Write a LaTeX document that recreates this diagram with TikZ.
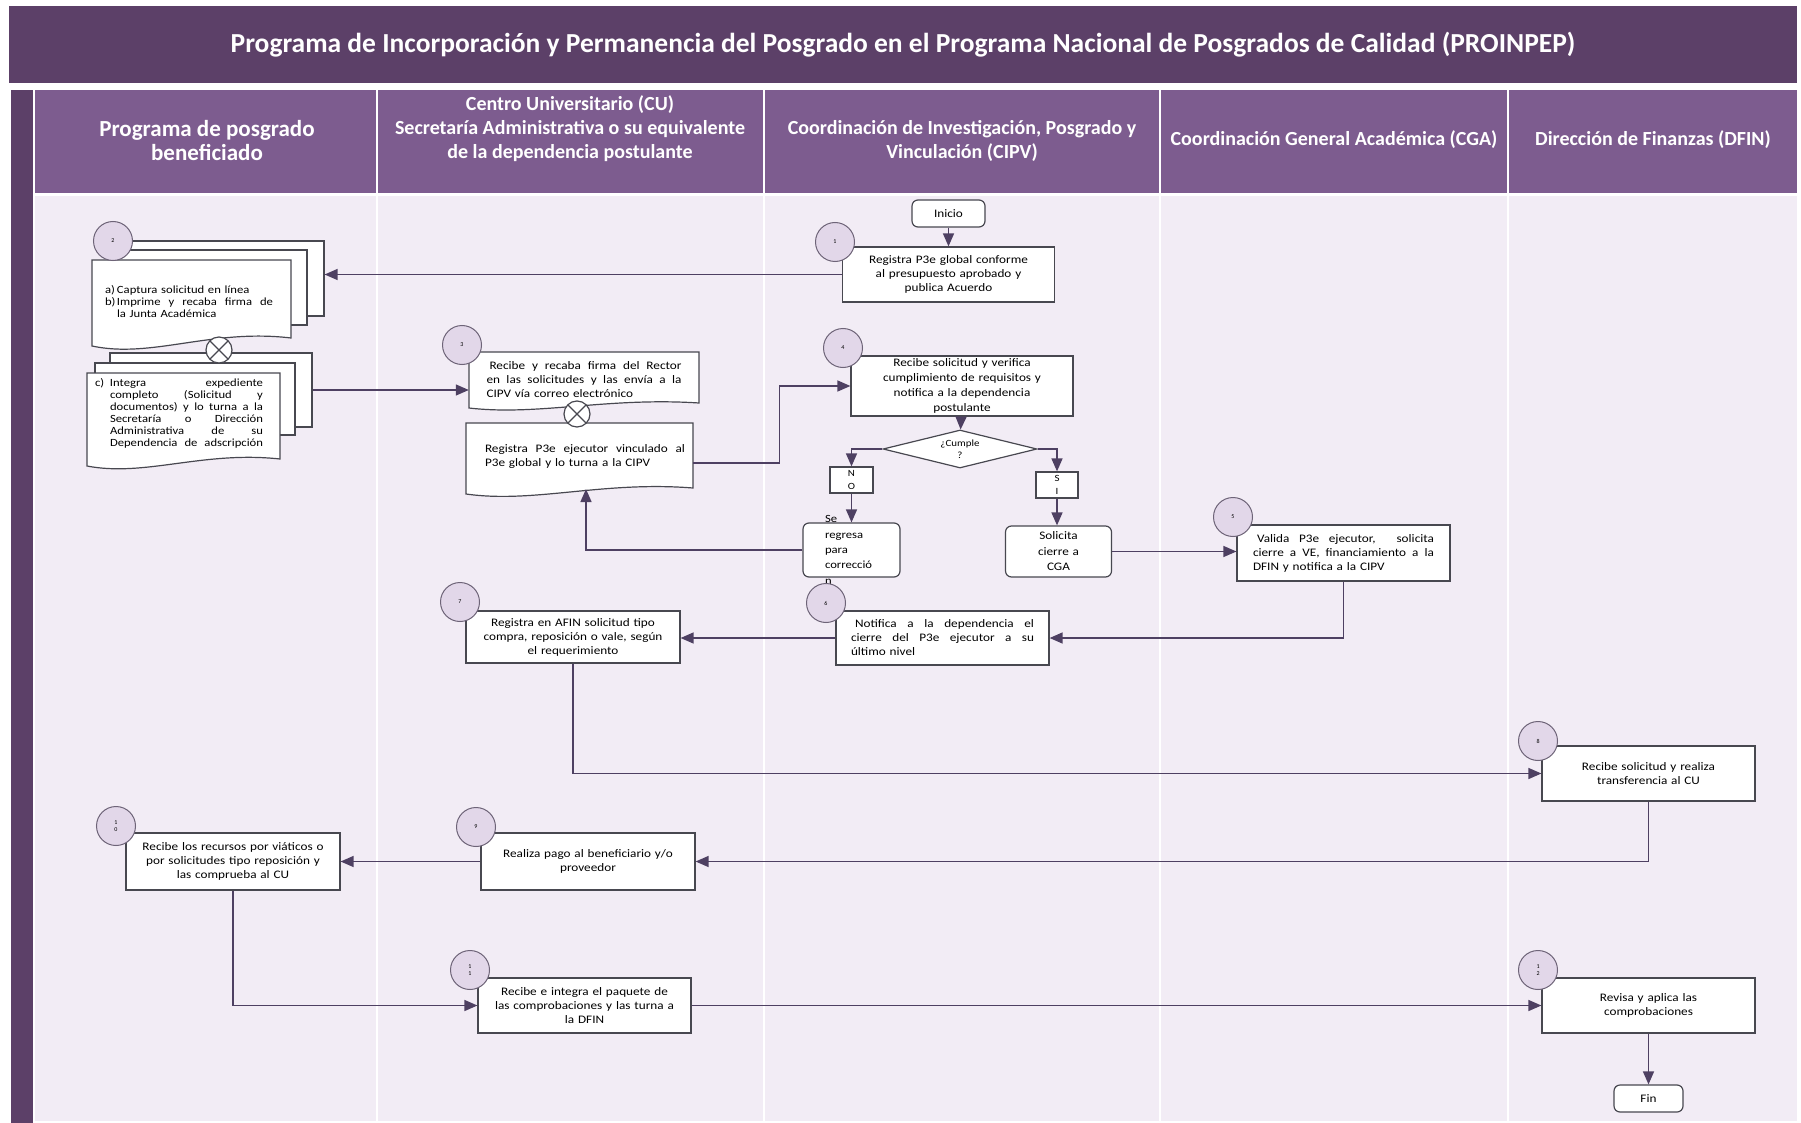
\documentclass[tikz,border=0pt]{standalone}
\usepackage{fontspec}
\setmainfont{Carlito}
\newfontfamily\boxfont[FakeStretch=1.15]{Carlito}
\usetikzlibrary{shapes.geometric,arrows.meta}
\definecolor{titlebg}{RGB}{92,64,104}
\definecolor{headbg}{RGB}{125,92,143}
\definecolor{lanebg}{RGB}{242,236,245}
\definecolor{circbg}{RGB}{226,215,233}
\definecolor{circline}{RGB}{110,100,120}
\definecolor{linec}{RGB}{78,64,98}
\definecolor{boxc}{RGB}{72,72,80}
\newcommand{\spread}[2][\hsize]{\leavevmode\hbox to #1{\spaceskip=\fontdimen2\font plus 1fil\relax#2}}
\newcommand{\docsheet}[5]{\filldraw[sheet] (#1,#2) -- (#3,#2) -- (#3,{#4-#5}) .. controls ({#1+0.6*(#3-#1)},{#4-2.2*#5}) and ({#1+0.3*(#3-#1)},{#4+1.6*#5}) .. (#1,#4) -- cycle;}
\begin{document}
\begin{tikzpicture}[x=1pt,y=-1pt,
  headtext/.style={text=white,font=\bfseries\fontsize{20}{24}\selectfont,align=center},
  sheet/.style={draw=boxc,fill=white,line width=1.2pt},
  stepbox/.style={draw=boxc,fill=white,line width=1.2pt,font=\boxfont\fontsize{11.5}{14}\selectfont,align=center,inner xsep=8pt,inner ysep=0pt},
  roundbox/.style={stepbox,rounded corners=6pt},
  doctext/.style={font=\boxfont\fontsize{11}{12}\selectfont,align=left,inner sep=0pt},
  numcirc/.style={circle,draw=circline,fill=circbg,line width=1pt,minimum size=39pt,inner sep=0pt,font=\fontsize{6}{6.5}\selectfont,align=center},
  xcirc/.style={circle,draw=boxc,fill=white,line width=1.2pt,minimum size=26pt,inner sep=0pt,
    path picture={\draw[boxc,line width=1.2pt] (path picture bounding box.north west) -- (path picture bounding box.south east) (path picture bounding box.north east) -- (path picture bounding box.south west);}},
  decision/.style={diamond,draw=boxc,fill=white,line width=1.2pt,minimum width=154pt,minimum height=38pt,aspect=4,inner sep=0pt,font=\boxfont\fontsize{9.5}{12}\selectfont,align=center},
  flow/.style={draw=linec,line width=1.4pt,-{Triangle[length=13pt,width=11pt]}}]
\useasboundingbox (0,0) rectangle (1801,1123);
\fill[white] (0,0) rectangle (1801,1123);
\fill[titlebg] (9,6) rectangle (1797,83);
\fill[titlebg] (11,90) rectangle (33,1123);
\foreach \l/\r in {35/376,378/763,765/1159,1161/1507,1509/1797}{
  \fill[headbg] (\l,90) rectangle (\r,193);
  \fill[lanebg] (\l,196) rectangle (\r,1121);
}
\node[text=white,font=\bfseries\fontsize{27.5}{32}\selectfont] (title) at (903,45) {Programa de Incorporación y Permanencia del Posgrado en el Programa Nacional de Posgrados de Calidad (PROINPEP)};
\node[headtext,font=\bfseries\fontsize{23}{24}\selectfont] (h1) at (207,141) {Programa de posgrado\\beneficiado};
\node[headtext] (h2) at (570,129) {Centro Universitario (CU)\\Secretaría Administrativa o su equivalente\\de la dependencia postulante};
\node[headtext] (h3) at (962,141) {Coordinación de Investigación, Posgrado y\\Vinculación (CIPV)};
\node[headtext] (h4) at (1334,140) {Coordinación General Académica (CGA)};
\node[headtext] (h5) at (1653,140) {Dirección de Finanzas (DFIN)};

\node[roundbox,minimum width=73pt,minimum height=27pt] (inicio) at (948.5,213.5) {Inicio};
\node[stepbox,minimum width=212pt,minimum height=55pt,text width=196pt] (s1) at (948.5,274.5) {Registra P3e global conforme\\al presupuesto aprobado y\\publica Acuerdo};

\node[sheet,minimum width=196pt,minimum height=75pt,inner sep=0pt] (s2top) at (226,278.5) {};
\node[sheet,minimum width=199pt,minimum height=75pt,inner sep=0pt] (s2topmid) at (207.5,287.5) {};
\docsheet{92}{260}{291}{346}{8}
\node[doctext,text width=168pt] (s2a) at (189,302) {\makebox[12pt][l]{a)}Captura solicitud en línea\\\makebox[12pt][l]{b)}\spread[156pt]{Imprime y recaba firma de}\\\hspace*{12pt}la Junta Académica};
\node[sheet,minimum width=202pt,minimum height=74pt,inner sep=0pt] (s2back) at (211,390) {};
\node[sheet,minimum width=200pt,minimum height=72pt,inner sep=0pt] (s2backmid) at (195,399) {};
\docsheet{87}{373}{280}{466}{7}
\node[doctext,text width=168pt] (s2b) at (179,413) {\makebox[15pt][l]{c)}\spread[153pt]{Integra expediente}\\\hspace*{15pt}\spread[153pt]{completo (Solicitud y}\\\hspace*{15pt}\spread[153pt]{documentos) y lo turna a la}\\\hspace*{15pt}\spread[153pt]{Secretaría o Dirección}\\\hspace*{15pt}\spread[153pt]{Administrativa de su}\\\hspace*{15pt}\spread[153pt]{Dependencia de adscripción}};
\node[xcirc] (x1) at (219,350) {};

\docsheet{469}{352}{699}{408}{5}
\node[doctext,font=\boxfont\fontsize{11.5}{14}\selectfont,minimum width=230pt,minimum height=56pt,text width=195pt] (s3a) at (584,380) {\spread{\hspace*{3pt}Recibe y recaba firma del Rector}\\\spread{en las solicitudes y las envía a la}\\CIPV vía correo electrónico};
\docsheet{466}{423}{693}{494}{6}
\node[doctext,font=\boxfont\fontsize{11.5}{14}\selectfont,minimum width=216pt,minimum height=80pt,text width=200pt] (s3b) at (585,463) {\spread{Registra P3e ejecutor vinculado al}\\P3e global y lo turna a la CIPV\\\mbox{}};
\node[xcirc] (x2) at (577,414) {};
\coordinate (s3bin) at (586,489);

\node[stepbox,minimum width=222pt,minimum height=60pt,text width=206pt,font=\boxfont\fontsize{11.5}{15}\selectfont] (s4) at (962,386) {Recibe solicitud y verifica\\cumplimiento de requisitos y\\notifica a la dependencia\\postulante};
\node[decision] (dec) at (960,449) {¿Cumple\\?};
\node[stepbox,minimum width=43pt,minimum height=26pt,inner xsep=0pt,font=\boxfont\fontsize{9.5}{13}\selectfont] (no) at (851.5,480) {N\\O};
\node[stepbox,minimum width=42pt,minimum height=26pt,inner xsep=0pt,font=\boxfont\fontsize{9.5}{13}\selectfont] (si) at (1057,485) {S\\I};
\node[roundbox,minimum width=97pt,minimum height=54pt] (regresa) at (851.5,550) {};
\node[doctext,font=\boxfont\fontsize{11}{15.3}\selectfont,text width=53pt] (regresatxt) at (851.5,550) {Se\\regresa\\para\\correcció\\n};
\node[roundbox,minimum width=103pt,minimum height=51pt,text width=90pt,font=\boxfont\fontsize{11.5}{15.5}\selectfont] (sol) at (1058.5,551.5) {Solicita\\cierre a\\CGA};

\node[stepbox,minimum width=213pt,minimum height=56pt,text width=181pt,inner xsep=16pt,align=left] (s5) at (1343.5,553) {\spread{\hspace*{4pt}Valida P3e ejecutor, \ solicita}\\\spread{cierre a VE, financiamiento a la}\\DFIN y notifica a la CIPV};
\node[stepbox,minimum width=213pt,minimum height=54pt,text width=183pt,inner xsep=15pt,align=left] (s6) at (942.5,638) {\spread{\hspace*{4pt}Notifica a la dependencia el}\\\spread{cierre del P3e ejecutor a su}\\último nivel};
\node[stepbox,minimum width=214pt,minimum height=52pt,text width=198pt] (s7) at (573,637) {Registra en AFIN solicitud tipo\\compra, reposición o vale, según\\el requerimiento};
\node[stepbox,minimum width=213pt,minimum height=55pt,text width=197pt] (s8) at (1648.5,773.5) {Recibe solicitud y realiza\\transferencia al CU};
\node[stepbox,minimum width=214pt,minimum height=57pt,text width=198pt] (s9) at (588,861.5) {Realiza pago al beneficiario y/o\\proveedor};
\node[stepbox,minimum width=214pt,minimum height=57pt,text width=198pt] (s10) at (233,861.5) {Recibe los recursos por viáticos o\\por solicitudes tipo reposición y\\las comprueba al CU};
\node[stepbox,minimum width=213pt,minimum height=55pt,text width=197pt] (s11) at (584.5,1005.5) {Recibe e integra el paquete de\\las comprobaciones y las turna a\\la DFIN};
\node[stepbox,minimum width=213pt,minimum height=55pt,text width=197pt] (s12) at (1648.5,1005.5) {Revisa y aplica las\\comprobaciones};
\node[roundbox,minimum width=69pt,minimum height=27pt] (fin) at (1648.5,1098.5) {Fin};

\draw[flow] (inicio) -- (s1);
\draw[flow] (s1.west) -- (s1.west -| s2top.east);
\draw[flow] (s2back.east) -- (s2back.east -| s3a.west);
\draw[flow] (s3b.east) -- ++(86,0) |- (s4.west);
\draw[flow] (s4) -- (dec);
\draw[flow] (dec.west) -| (no);
\draw[flow] (dec.east) -| (si);
\draw[flow] (no) -- (regresa);
\draw[flow] (si) -- (si |- sol.north);
\draw[flow] (regresa.west) -| (s3bin);
\draw[flow] (sol.east) -- (sol.east -| s5.west);
\draw[flow] (s5.south) |- (s6.east);
\draw[flow] (s6.west) -- (s6.west -| s7.east);
\draw[flow] (s7.south) |- (s8.west);
\draw[flow] (s8.south) |- (s9.east);
\draw[flow] (s9) -- (s10);
\draw[flow] (s10.south) |- (s11.west);
\draw[flow] (s11) -- (s12);
\draw[flow] (s12) -- (fin);

\node[numcirc] (c1) at (835,242) {1};
\node[numcirc] (c2) at (113,241) {2};
\node[numcirc] (c3) at (462,345) {3};
\node[numcirc] (c4) at (843,348) {4};
\node[numcirc] (c5) at (1233,517) {5};
\node[numcirc] (c6) at (826,603) {6};
\node[numcirc] (c7) at (460,602) {7};
\node[numcirc] (c8) at (1538,741) {8};
\node[numcirc] (c9) at (476,827) {9};
\node[numcirc] (c10) at (116,826) {1\\0};
\node[numcirc] (c11) at (470,970) {1\\1};
\node[numcirc] (c12) at (1538,970) {1\\2};
\end{tikzpicture}
\end{document}
